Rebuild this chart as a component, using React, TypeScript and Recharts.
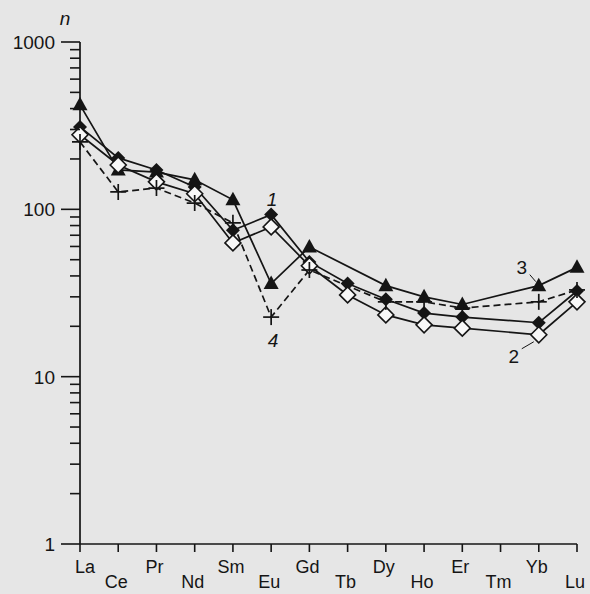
import React from 'react';
import { LineChart, Line, XAxis, YAxis, Label } from 'recharts';

// REE spectra, chondrite-normalised (n), log scale
const elements = ['La', 'Ce', 'Pr', 'Nd', 'Sm', 'Eu', 'Gd', 'Tb', 'Dy', 'Ho', 'Er', 'Tm', 'Yb', 'Lu'];

// 1 - filled diamonds
const sample1 = [311, 203, 172, 136, 75, 93, 48.5, 36, 29, 24, 22.7, null, 21, 32.5];
// 2 - open diamonds
const sample2 = [279, 184, 146, 124, 63, 78.5, 46, 30.8, 23.4, 20.4, 19.5, null, 17.8, 28];
// 3 - filled triangles
const sample3 = [421, 172, 167, 150, 114, 36, 59.6, null, 35, 30, 27, null, 35, 45];
// 4 - crosses, dashed
const sample4 = [253, 127, 134, 109, 83, 22.7, 43.4, null, 28, 28, 25.7, null, 28, 33];

const yTicks = [
  1, 2, 3, 4, 5, 6, 7, 8, 9,
  10, 20, 30, 40, 50, 60, 70, 80, 90,
  100, 200, 300, 400, 500, 600, 700, 800, 900,
  1000,
];
const yLabels = [1, 10, 100, 1000];

const data = elements.map((el, i) => ({
  el,
  s1: sample1[i],
  s2: sample2[i],
  s3: sample3[i],
  s4: sample4[i],
}));

const INK = '#151515';
const BG = '#e6e6e6';
const FONT = '"Liberation Sans", Arial, sans-serif';

const YTick = (props: any) => {
  const { x, y, payload } = props;
  const v = payload.value;
  const major = yLabels.includes(v);
  return (
    <g>
      <line x1={x - (major ? 19 : 10)} x2={x} y1={y} y2={y} stroke={INK} strokeWidth={1.6} />
      {major && (
        <text x={x - 25} y={y} dy={7} textAnchor="end" fontSize={19} fontFamily={FONT} fill={INK}>
          {v}
        </text>
      )}
    </g>
  );
};

const XTick = (props: any) => {
  const { x, y, payload, index } = props;
  const lower = index % 2 === 1;
  const dx = index === 0 ? 5 : -2;
  return (
    <g>
      <line x1={x} x2={x} y1={y} y2={y + 8} stroke={INK} strokeWidth={1.6} />
      <text x={x + dx} y={y + (lower ? 44 : 29)} textAnchor="middle" fontSize={18} fontFamily={FONT} fill={INK}>
        {payload.value}
      </text>
    </g>
  );
};

type Note = { index: number; text: string; italic?: boolean; dx: number; dy: number; leader?: number[] };

const note1: Note = { index: 5, text: '1', italic: true, dx: 1, dy: -9 };
const note2: Note = { index: 12, text: '2', dx: -25, dy: 28, leader: [-17, 14, -5, 7] };
const note3: Note = { index: 12, text: '3', dx: -17, dy: -12, leader: [-9, -11, -3, -4] };
const note4: Note = { index: 5, text: '4', italic: true, dx: 2, dy: 30 };

const makeDot = (kind: string, note?: Note) => (props: any) => {
  const { cx, cy, index, value } = props;
  const key = `${kind}-${index}`;
  if (cx == null || cy == null || value == null) return <g key={key} />;
  let mark;
  if (kind === 'tri') {
    mark = <polygon points={`${cx},${cy - 8} ${cx + 7.5},${cy + 5.5} ${cx - 7.5},${cy + 5.5}`} fill={INK} />;
  } else if (kind === 'dia') {
    mark = <polygon points={`${cx},${cy - 7} ${cx + 7},${cy} ${cx},${cy + 7} ${cx - 7},${cy}`} fill={INK} />;
  } else if (kind === 'open') {
    mark = (
      <polygon
        points={`${cx},${cy - 8} ${cx + 8},${cy} ${cx},${cy + 8} ${cx - 8},${cy}`}
        fill="#f8f8f8"
        stroke={INK}
        strokeWidth={1.6}
      />
    );
  } else {
    mark = (
      <g stroke={INK} strokeWidth={1.7}>
        <line x1={cx - 8} x2={cx + 8} y1={cy} y2={cy} />
        <line x1={cx} x2={cx} y1={cy - 8} y2={cy + 8} />
      </g>
    );
  }
  return (
    <g key={key}>
      {mark}
      {note && note.index === index && (
        <g>
          {note.leader && (
            <line
              x1={cx + note.leader[0]}
              y1={cy + note.leader[1]}
              x2={cx + note.leader[2]}
              y2={cy + note.leader[3]}
              stroke={INK}
              strokeWidth={1}
            />
          )}
          <text
            x={cx + note.dx}
            y={cy + note.dy}
            textAnchor="middle"
            fontSize={19}
            fontStyle={note.italic ? 'italic' : 'normal'}
            fontFamily={FONT}
            fill={INK}
          >
            {note.text}
          </text>
        </g>
      )}
    </g>
  );
};

const renderN = (props: any) => {
  const vb = props.viewBox || { x: 0, y: 42, width: 80 };
  return (
    <text x={vb.x + vb.width - 15} y={vb.y - 17} textAnchor="middle" fontSize={19} fontStyle="italic" fontFamily={FONT} fill={INK}>
      n
    </text>
  );
};

export default function App() {
  return (
    <div style={{ position: 'absolute', left: 0, top: 0, width: 590, height: 594, background: BG }}>
      <LineChart width={590} height={594} data={data} margin={{ top: 42, right: 13, bottom: 0, left: 0 }}>
        <XAxis
          dataKey="el"
          type="category"
          interval={0}
          height={50}
          tickSize={0}
          tickMargin={0}
          tickLine={false}
          tick={<XTick />}
          axisLine={{ stroke: INK, strokeWidth: 1.7 }}
          padding={{ left: 0, right: 0 }}
        />
        <YAxis
          type="number"
          scale="log"
          domain={[1, 1000]}
          ticks={yTicks}
          interval={0}
          allowDataOverflow
          width={80}
          tickSize={0}
          tickMargin={0}
          tickLine={false}
          tick={<YTick />}
          axisLine={{ stroke: INK, strokeWidth: 1.7 }}
        >
          <Label content={renderN} />
        </YAxis>
        <Line dataKey="s3" stroke={INK} strokeWidth={1.7} connectNulls dot={makeDot('tri', note3)} isAnimationActive={false} />
        <Line dataKey="s1" stroke={INK} strokeWidth={1.7} connectNulls dot={makeDot('dia', note1)} isAnimationActive={false} />
        <Line dataKey="s2" stroke={INK} strokeWidth={1.7} connectNulls dot={makeDot('open', note2)} isAnimationActive={false} />
        <Line
          dataKey="s4"
          stroke={INK}
          strokeWidth={1.7}
          strokeDasharray="7 4"
          connectNulls
          dot={makeDot('plus', note4)}
          isAnimationActive={false}
        />
      </LineChart>
    </div>
  );
}
